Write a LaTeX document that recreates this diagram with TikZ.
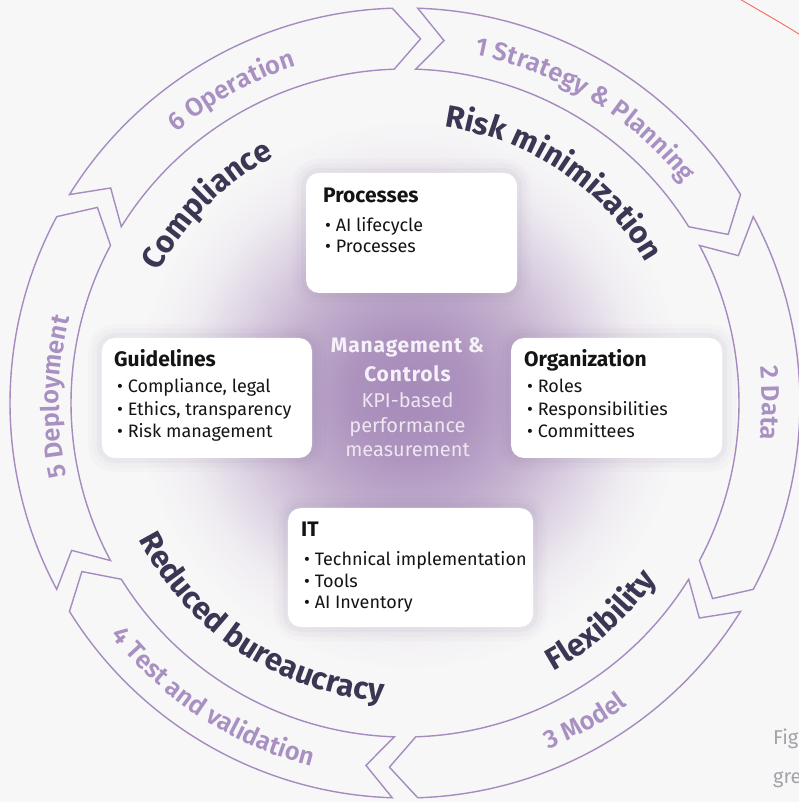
\documentclass[tikz,border=0pt]{standalone}
\usepackage{fontspec}
\setmainfont{Fira Sans}
\newfontfamily\semibfont{Fira Sans SemiBold}
\newfontfamily\ctrboldfont{Fira Sans Bold}[LetterSpace=4]
\usetikzlibrary{decorations.text}

\definecolor{bg}{HTML}{F7F7F7}
\definecolor{ring}{HTML}{A58BBF}
\definecolor{ringtext}{HTML}{A890C2}
\definecolor{darktext}{HTML}{3A3653}
\definecolor{ink}{HTML}{141414}
\definecolor{shade}{HTML}{7E6B90}
\definecolor{ctrtext}{HTML}{F6F1F8}
\definecolor{ctrsoft}{HTML}{EEE6F1}
\definecolor{redline}{HTML}{F26D5B}
\definecolor{figgray}{HTML}{A2A2AA}
\definecolor{glowA}{HTML}{A68AB9}
\definecolor{glowB}{HTML}{AD93BE}
\definecolor{glowC}{HTML}{C4B1CF}
\definecolor{glowD}{HTML}{DDD3E3}
\definecolor{glowE}{HTML}{F0EDF2}

% purple halo on the page background; 25bp = half side of the shaded square (420pt)
\pgfdeclareradialshading{glow}{\pgfpoint{0bp}{0bp}}{%
  color(0bp)=(glowA); color(3.6bp)=(glowB); color(7.5bp)=(glowC);
  color(10.8bp)=(glowD); color(13.7bp)=(glowE); color(16.4bp)=(bg); color(50bp)=(bg)}

% curved labels: #1 centre angle, #2 baseline radius, #3 colour, #4 font, #5 text
\newcommand\cwlabel[5]{%
  \path[decorate,decoration={text along path,text align=center,
    text color=#3,text={|#4|#5}}]
    (#1+70:#2) arc[start angle=#1+70,end angle=#1-70,radius=#2];}
\newcommand\ccwlabel[5]{%
  \path[decorate,decoration={text along path,text align=center,
    text color=#3,text={|#4|#5}}]
    (#1-70:#2) arc[start angle=#1-70,end angle=#1+70,radius=#2];}

\newcommand\ringfont{\semibfont\fontsize{25.5}{26}\selectfont}
\newcommand\keyfont{\bfseries\fontsize{31}{31}\selectfont}

\begin{document}
\begin{tikzpicture}[x=1pt,y=1pt,
  ringline/.style={draw=ring,line width=1.4pt,line join=miter},
  card/.style={rectangle,rounded corners=13pt,fill=white,inner sep=0pt,
    preaction={draw=shade,line width=28pt,opacity=0.025},
    preaction={draw=shade,line width=19pt,opacity=0.035},
    preaction={draw=shade,line width=10pt,opacity=0.05}},
  cardtitle/.style={anchor=base west,inner sep=0pt,text=ink,
    font=\fontsize{21}{24}\selectfont\bfseries},
  carditem/.style={anchor=base west,inner sep=0pt,text=ink,
    font=\fontsize{18}{22}\selectfont},
  ctrbold/.style={anchor=base,inner sep=0pt,text=ctrtext,
    font=\ctrboldfont\fontsize{21}{24}\selectfont},
  ctrlight/.style={anchor=base,inner sep=0pt,text=ctrsoft,
    font=\fontsize{20}{24}\selectfont},
  figtext/.style={anchor=base west,inner sep=0pt,text=figgray,
    font=\fontsize{20}{24}\selectfont}]

% page size, background and central glow
\useasboundingbox (-405,-399) rectangle (393,403);
\fill[bg] (-405,-399) rectangle (393,403);
\fill[shading=glow] (-415,-412) rectangle (425,428);

% six chevron segments of the cycle (clockwise)
\foreach \t in {90,30,-30,-90,-150,-210}{
  \pgfmathsetmacro\a{\t-1.85}
  \pgfmathsetmacro\b{\t-60+1.85}
  \pgfmathsetmacro\an{\a-4.3}
  \pgfmathsetmacro\bn{\b-4.3}
  \draw[ringline] (\a:395pt) arc[start angle=\a,end angle=\b,radius=395pt]
    -- (\bn:364.5pt) -- (\b:334pt)
    arc[start angle=\b,end angle=\a,radius=334pt]
    -- (\an:364.5pt) -- cycle;
}

% phase labels on the ring
\cwlabel{58.5}{355pt}{ringtext}{\ringfont}{1 Strategy {\&} Planning}
\cwlabel{0}{357pt}{ringtext}{\ringfont}{2 Data}
\ccwlabel{-60.5}{375pt}{ringtext}{\ringfont}{3 Model}
\ccwlabel{237}{375pt}{ringtext}{\ringfont}{4 Test and validation}
\cwlabel{179}{346pt}{ringtext}{\ringfont}{5 Deployment}
\cwlabel{119}{354pt}{ringtext}{\ringfont}{6 Operation}

% benefit labels inside the ring
\cwlabel{56}{279pt}{darktext}{\keyfont}{Risk minimization}
\ccwlabel{-48}{307pt}{darktext}{\keyfont}{Flexibility}
\ccwlabel{236.5}{299pt}{darktext}{\keyfont}{Reduced bureaucracy}
\cwlabel{135}{279pt}{darktext}{\keyfont}{Compliance}

% cards
\node[card,minimum width=211pt,minimum height=120pt] (proc) at (6.5,170) {};
\node[card,minimum width=210pt,minimum height=120pt] (guide) at (-198,5) {};
\node[card,minimum width=211pt,minimum height=120pt] (org) at (211.5,5) {};
\node[card,minimum width=245pt,minimum height=119pt] (it) at (5.5,-164.5) {};

\node[cardtitle] (proc-t) at (-82,200) {Processes};
\node[carditem] (proc-1) at (-80,171) {• AI lifecycle};
\node[carditem] (proc-2) at (-80,150) {• Processes};

\node[cardtitle] (guide-t) at (-291,36) {Guidelines};
\node[carditem] (guide-1) at (-288,10) {• Compliance, legal};
\node[carditem] (guide-2) at (-288,-13) {• Ethics, transparency};
\node[carditem] (guide-3) at (-288,-35) {• Risk management};

\node[cardtitle] (org-t) at (119,36) {Organization};
\node[carditem] (org-1) at (122,10) {• Roles};
\node[carditem] (org-2) at (122,-13) {• Responsibilities};
\node[carditem] (org-3) at (122,-35) {• Committees};

\node[cardtitle] (it-t) at (-104,-134) {IT};
\node[carditem] (it-1) at (-101,-162) {• Technical implementation};
\node[carditem] (it-2) at (-101,-184) {• Tools};
\node[carditem] (it-3) at (-101,-205) {• AI Inventory};

% centre text
\node[ctrbold] (mgmt) at (2.5,50) {Management \&};
\node[ctrbold] (ctrl) at (2.5,21) {Controls};
\node[ctrlight] (kpi) at (2.5,-5) {KPI-based};
\node[ctrlight] (perf) at (2.5,-30) {performance};
\node[ctrlight] (meas) at (2.5,-54) {measurement};

% neighbouring page content
\draw[redline,line width=0.9pt] (333,405) .. controls (355,392) and (375,381) .. (397,367);
\node[figtext] (fig) at (368,-341) {Fig};
\node[figtext] (gre) at (368,-380) {gre};
\end{tikzpicture}
\end{document}
